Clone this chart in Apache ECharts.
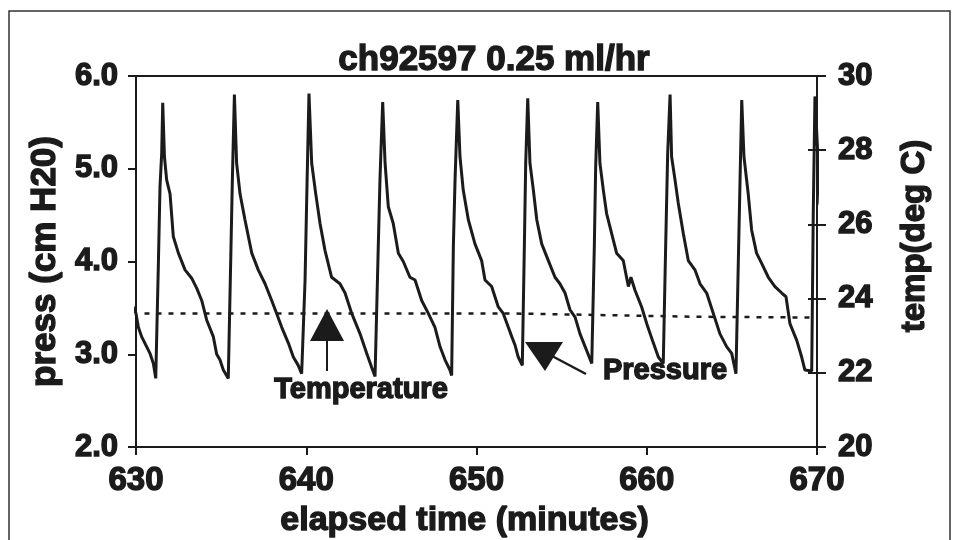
<!DOCTYPE html>
<html>
<head>
<meta charset="utf-8">
<script src="https://cdn.jsdelivr.net/npm/echarts@6/dist/echarts.min.js"></script>
<style>
html, body { margin: 0; padding: 0; background: #fff; }
#main { width: 958px; height: 540px; }
</style>
</head>
<body>
<div id="main"></div>
<script>
// pressure trace (minutes / cm H20)
var pressTime = [
    629.55, 630.00, 630.14, 630.33, 630.63, 630.82, 631.02, 631.16,
    631.31, 631.41, 631.51, 631.57, 631.67, 631.80, 632.00, 632.19, 632.49, 632.88, 633.27, 633.57, 633.86, 634.15, 634.54, 634.74, 634.93, 635.13, 635.42,
    635.58, 635.66, 635.78, 635.91, 636.11, 636.40, 636.80, 637.18, 637.58, 637.97, 638.26, 638.56, 638.95, 639.24, 639.53, 639.73,
    639.93, 640.03, 640.16, 640.32, 640.55, 640.81, 641.10, 641.49, 641.98, 642.28, 642.67, 643.16, 643.55, 643.84, 644.04,
    644.23, 644.33, 644.49, 644.63, 644.82, 645.11, 645.41, 645.70, 646.09, 646.39, 646.78, 647.17, 647.56, 647.86, 648.15, 648.44, 648.54,
    648.64, 648.74, 648.90, 649.03, 649.22, 649.52, 649.91, 650.30, 650.50, 650.89, 651.28, 651.57, 651.87, 652.07, 652.26, 652.45, 652.69,
    652.81, 652.89, 653.01, 653.14, 653.34, 653.54, 653.83, 654.22, 654.61, 654.90, 655.20, 655.49, 655.79, 656.08, 656.47, 656.77,
    656.92, 657.00, 657.12, 657.25, 657.45, 657.64, 657.94, 658.23, 658.62, 658.92, 659.07, 659.31, 659.70, 660.00, 660.39, 660.68, 660.97,
    661.11, 661.23, 661.37, 661.46, 661.66, 661.85, 662.15, 662.44, 662.83, 663.13, 663.52, 663.91, 664.30, 664.70, 664.99, 665.24,
    665.38, 665.48, 665.58, 665.71, 665.96, 666.16, 666.45, 666.75, 667.14, 667.53, 667.93, 668.18, 668.41, 668.81, 669.10, 669.29, 669.69,
    669.78, 669.88, 670.07, 670.17, 670.36, 670.56
];
var pressValue = [
    3.62, 3.44, 3.29, 3.19, 3.08, 3.01, 2.90, 2.74,
    3.94, 4.81, 5.17, 5.71, 5.13, 4.88, 4.73, 4.27, 4.09, 3.91, 3.82, 3.71, 3.58, 3.37, 3.19, 3.00, 2.94, 2.83, 2.74,
    4.16, 4.88, 5.80, 5.06, 4.73, 4.45, 4.09, 3.91, 3.76, 3.58, 3.44, 3.29, 3.12, 2.97, 2.88, 2.79,
    3.80, 4.70, 5.81, 5.06, 4.74, 4.41, 4.12, 3.83, 3.76, 3.66, 3.44, 3.22, 3.01, 2.86, 2.76,
    4.16, 4.88, 5.72, 5.06, 4.59, 4.41, 4.09, 4.00, 3.83, 3.80, 3.58, 3.44, 3.29, 3.08, 2.94, 2.83, 2.77,
    4.16, 4.88, 5.74, 5.13, 4.77, 4.45, 4.19, 4.01, 3.80, 3.73, 3.51, 3.44, 3.29, 3.19, 3.10, 2.97, 2.88,
    4.16, 5.06, 5.76, 5.06, 4.77, 4.45, 4.19, 4.01, 3.83, 3.76, 3.66, 3.48, 3.40, 3.22, 3.04, 2.90,
    4.16, 5.02, 5.72, 5.06, 4.77, 4.52, 4.30, 4.09, 4.01, 3.73, 3.83, 3.69, 3.51, 3.33, 3.12, 2.97, 2.90,
    4.16, 5.17, 5.80, 5.13, 4.88, 4.63, 4.30, 4.01, 3.91, 3.76, 3.66, 3.44, 3.22, 3.08, 3.01, 2.79,
    4.01, 4.88, 5.74, 5.13, 4.73, 4.34, 4.09, 3.98, 3.83, 3.73, 3.66, 3.62, 3.33, 3.15, 2.97, 2.83, 2.82,
    4.52, 5.78, 5.06, 4.63, 4.45, 4.27
];

// temperature (deg C), the dotted line
var tempTime = [630.5, 652.0, 663.0, 669.8];
var tempValue = [23.60, 23.60, 23.51, 23.49];

var xTicks = [630, 640, 650, 660, 670];
var pressTicks = [2, 6, 1];   // min, max, step
var tempTicks = [20, 30, 2];

var ink = '#1b1b1b';
var fontFam = '"Liberation Sans", Arial, sans-serif';

function zip(a, b) {
    var out = [];
    for (var i = 0; i < a.length; i++) {
        out.push([a[i], b[i]]);
    }
    return out;
}

function txt(size) {
    return {
        color: ink,
        fontFamily: fontFam,
        fontWeight: 'bold',
        fontSize: size,
        textBorderColor: ink,
        textBorderWidth: 1.4
    };
}

var myChart = echarts.init(document.getElementById('main'));

var option = {
    backgroundColor: '#fff',
    animation: false,
    title: {
        text: 'ch92597 0.25 ml/hr',
        left: 489,
        top: 38,
        textAlign: 'center',
        textStyle: txt(35)
    },
    grid: {
        left: 136,
        right: 141,
        top: 76,
        bottom: 93,
        outerBoundsMode: 'none',
        containLabel: false,
        show: true,
        borderColor: ink,
        borderWidth: 2,
        backgroundColor: 'transparent'
    },
    xAxis: {
        type: 'value',
        min: xTicks[0],
        max: xTicks[xTicks.length - 1],
        interval: 10,
        name: 'elapsed time (minutes)',
        nameLocation: 'middle',
        nameGap: 45,
        nameTextStyle: Object.assign(txt(34), { padding: [0, 24, 0, 0] }),
        axisLine: { lineStyle: { color: ink, width: 2 } },
        axisTick: { inside: false, length: 8, lineStyle: { color: ink, width: 2 } },
        axisLabel: Object.assign(txt(33), { margin: 17 }),
        splitLine: { show: false }
    },
    yAxis: [
        {
            type: 'value',
            position: 'left',
            min: pressTicks[0],
            max: pressTicks[1],
            interval: pressTicks[2],
            name: 'press (cm H20)',
            nameLocation: 'middle',
            nameRotate: 90,
            nameGap: 69,
            nameTextStyle: txt(35),
            axisLine: { show: true, lineStyle: { color: ink, width: 2 } },
            axisTick: { show: true, inside: false, length: 8, lineStyle: { color: ink, width: 2 } },
            axisLabel: Object.assign(txt(31), {
                margin: 18,
                formatter: function (v) { return v.toFixed(1); }
            }),
            splitLine: { show: false }
        },
        {
            type: 'value',
            position: 'right',
            min: tempTicks[0],
            max: tempTicks[1],
            interval: tempTicks[2],
            axisLine: { show: true, lineStyle: { color: ink, width: 2 } },
            axisTick: { show: true, inside: false, length: 9, lineStyle: { color: ink, width: 2 } },
            axisLabel: Object.assign(txt(31), { margin: 21 }),
            splitLine: { show: false }
        },
        {
            // same scale again, only for the inner half of the crossing ticks
            type: 'value',
            position: 'right',
            min: tempTicks[0],
            max: tempTicks[1],
            interval: tempTicks[2],
            axisLine: { show: false },
            axisTick: { show: true, inside: true, length: 9, lineStyle: { color: ink, width: 2 } },
            axisLabel: { show: false },
            splitLine: { show: false }
        }
    ],
    graphic: [
        {
            type: 'rect',
            shape: { x: 9, y: 11, width: 941, height: 560 },
            style: { fill: 'none', stroke: '#333', lineWidth: 1.5 },
            silent: true
        },
        // Temperature pointer
        {
            type: 'polygon',
            shape: { points: [[327, 309], [310, 341], [344, 341]] },
            style: { fill: ink }
        },
        {
            type: 'line',
            shape: { x1: 327, y1: 341, x2: 327, y2: 371 },
            style: { stroke: ink, lineWidth: 2 }
        },
        {
            type: 'text',
            x: 361, y: 390,
            style: {
                text: 'Temperature', fill: ink, fontFamily: fontFam, fontWeight: 'bold', fontSize: 29,
                stroke: ink, lineWidth: 1.4, align: 'center', verticalAlign: 'middle'
            }
        },
        // Pressure pointer
        {
            type: 'polygon',
            shape: { points: [[525, 342], [563, 342], [545, 371]] },
            style: { fill: ink }
        },
        {
            type: 'line',
            shape: { x1: 552, y1: 356, x2: 586, y2: 374 },
            style: { stroke: ink, lineWidth: 2.5 }
        },
        {
            type: 'text',
            x: 665, y: 371,
            style: {
                text: 'Pressure', fill: ink, fontFamily: fontFam, fontWeight: 'bold', fontSize: 29,
                stroke: ink, lineWidth: 1.4, align: 'center', verticalAlign: 'middle'
            }
        },
        // right axis name
        {
            type: 'text',
            x: 915, y: 236,
            rotation: Math.PI / 2,
            style: {
                text: 'temp(deg C)', fill: ink, fontFamily: fontFam, fontWeight: 'bold', fontSize: 33,
                stroke: ink, lineWidth: 1.4, align: 'center', verticalAlign: 'middle'
            }
        }
    ],
    series: [
        {
            name: 'Pressure',
            type: 'line',
            yAxisIndex: 0,
            data: zip(pressTime, pressValue),
            showSymbol: false,
            clip: false,
            lineStyle: { color: ink, width: 3 },
            z: 3
        },
        {
            name: 'Temperature',
            type: 'line',
            yAxisIndex: 1,
            data: zip(tempTime, tempValue),
            showSymbol: false,
            lineStyle: { color: ink, width: 2.5, type: [5, 7] },
            z: 2
        }
    ]
};

myChart.setOption(option);
</script>
</body>
</html>
